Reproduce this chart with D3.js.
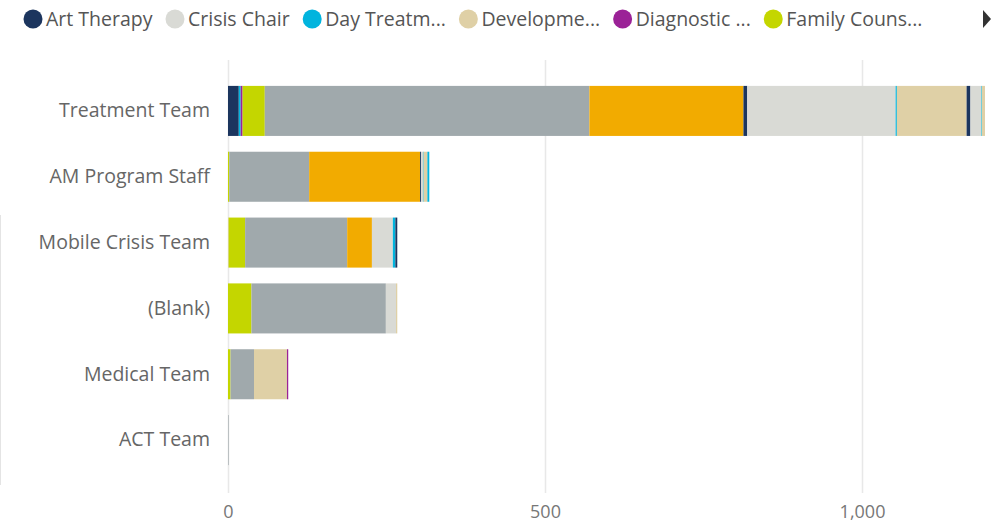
<!DOCTYPE html>
<html lang="en">
    <head>
        <meta charset="utf-8">
        <script type="text/javascript" src="https://cdn.jsdelivr.net/npm/d3@7/dist/d3.min.js"></script>
        <title>Services by team</title>
        <style>
          body { margin: 0; background: #fff; }
          text { font-family: "Open Sans", "Segoe UI", sans-serif; }
        </style>
    </head>
    <body>
        <script type="text/javascript">
          // categories (top to bottom)
          var categories = ["Treatment Team", "AM Program Staff", "Mobile Crisis Team", "(Blank)", "Medical Team", "ACT Team"];

          // service types (legend order, only the first six are visible)
          var services = ["Art Therapy", "Crisis Chair", "Day Treatment", "Development Disabilities", "Diagnostic Assessment",
                          "Family Counseling", "Group Therapy", "Individual Therapy", "Intake", "Medication Management",
                          "Nursing", "Outpatient", "Peer Support", "Psychiatric Evaluation", "Psychotherapy",
                          "Respite", "Skills Training", "Substance Use", "Transportation", "Vocational"];

          // legend labels as they are cut off in the legend
          var legendLabels = ["Art Therapy", "Crisis Chair", "Day Treatm...", "Developme...", "Diagnostic ...", "Family Couns..."];

          // values per team, one entry per service
          var treatmentTeam    = [17, 0, 3, 0, 3, 35, 512, 243, 6, 234, 2, 110, 0, 0, 0, 0, 6, 17, 1, 5];
          var amProgramStaff   = [0, 0, 0, 0, 0, 2, 126, 175, 1.5, 3, 1, 6, 0, 0, 0, 0, 0, 0, 3, 0];
          var mobileCrisisTeam = [0, 0, 0, 1, 0, 26, 161, 39, 0, 33, 4, 0, 0, 0, 0, 0, 3, 0, 0, 0];
          var blankTeam        = [0, 0, 0, 0, 0, 37, 212, 0, 0, 16, 0, 2, 0, 0, 0, 0, 0, 0, 0, 0];
          var medicalTeam      = [0, 0, 0, 0, 0, 4, 37, 0, 0, 0, 0, 52, 2, 0, 0, 0, 0, 0, 0, 0];
          var actTeam          = [0, 0, 0, 0, 0, 0, 1, 0, 0, 0, 0, 0, 0, 0, 0, 0, 0, 0, 0, 0];

          var xticks = [0, 500, 1000];

          // theme colours, repeating every eight series
          var palette = ["#1c355e", "#d9dad5", "#01b4de", "#dfd0a6", "#9b2297", "#c4d600", "#a0a9ac", "#f2ab00"];

          var rows = [treatmentTeam, amProgramStaff, mobileCrisisTeam, blankTeam, medicalTeam, actTeam];

          // build table for the stack
          var table = categories.map(function(c, i) {
            var row = {team: c};
            services.forEach(function(s, j) { row[s] = rows[i][j]; });
            return row;
          });

          var w = 999;
          var h = 524;

          var svg = d3.select("body").append("svg")
                      .attr("width", w)
                      .attr("height", h);

          var xscale = d3.scaleLinear()
            .domain([0, 1000])
            .range([228, 862]);

          var yscale = d3.scaleBand()
            .domain(categories)
            .range([78, 473])
            .paddingInner(0.24)
            .paddingOuter(0.12);

          var color = d3.scaleOrdinal()
            .domain(services)
            .range(services.map(function(s, i) { return palette[i % palette.length]; }));

          // faint frame line on the left
          svg.append("line")
            .attr("x1", 0.5).attr("x2", 0.5)
            .attr("y1", 215).attr("y2", 485)
            .attr("stroke", "#e4e4e4");

          // gridlines
          svg.append("g")
            .selectAll("line")
            .data(xticks)
            .enter()
            .append("line")
            .attr("x1", function(d) { return xscale(d) + 0.5; })
            .attr("x2", function(d) { return xscale(d) + 0.5; })
            .attr("y1", 60)
            .attr("y2", 493)
            .attr("stroke", "#e8e8e8")
            .attr("stroke-width", 1.5);

          // stacked bars
          var stack = d3.stack().keys(services);
          var layers = stack(table);

          svg.append("g")
            .selectAll("g")
            .data(layers)
            .enter()
            .append("g")
            .attr("fill", function(d) { return color(d.key); })
            .selectAll("rect")
            .data(function(d) { return d; })
            .enter()
            .append("rect")
            .attr("x", function(d) { return xscale(d[0]); })
            .attr("y", function(d) { return yscale(d.data.team); })
            .attr("width", function(d) { return xscale(d[1]) - xscale(d[0]); })
            .attr("height", yscale.bandwidth());

          // category axis
          var yaxis = d3.axisLeft(yscale).tickSize(0).tickPadding(18);
          var ga = svg.append("g")
            .attr("transform", "translate(" + 228 + ",0)")
            .call(yaxis);
          ga.select(".domain").remove();
          ga.selectAll("text")
            .attr("fill", "#666")
            .style("font-size", "19.5px");

          // value axis
          var xaxis = d3.axisBottom(xscale).tickValues(xticks).tickSize(0).tickPadding(0)
            .tickFormat(d3.format(","));
          var gx = svg.append("g")
            .attr("transform", "translate(0," + 505 + ")")
            .call(xaxis);
          gx.select(".domain").remove();
          gx.selectAll("text")
            .attr("fill", "#777")
            .style("font-size", "18px");

          // legend
          var legend = svg.append("g");
          var lx = 24;
          services.slice(0, 6).forEach(function(s, i) {
            var item = legend.append("g");
            item.append("circle")
              .attr("cx", lx + 9)
              .attr("cy", 19)
              .attr("r", 9.5)
              .attr("fill", color(s));
            var t = item.append("text")
              .attr("x", lx + 22)
              .attr("y", 26)
              .attr("fill", "#555")
              .style("font-size", "19.5px")
              .text(legendLabels[i]);
            lx = lx + 22 + t.node().getComputedTextLength() + 13.5;
          });

          // scroll arrow
          svg.append("path")
            .attr("d", "M983,10 L991,19 L983,28 Z")
            .attr("fill", "#333");
        </script>
    </body>
</html>
